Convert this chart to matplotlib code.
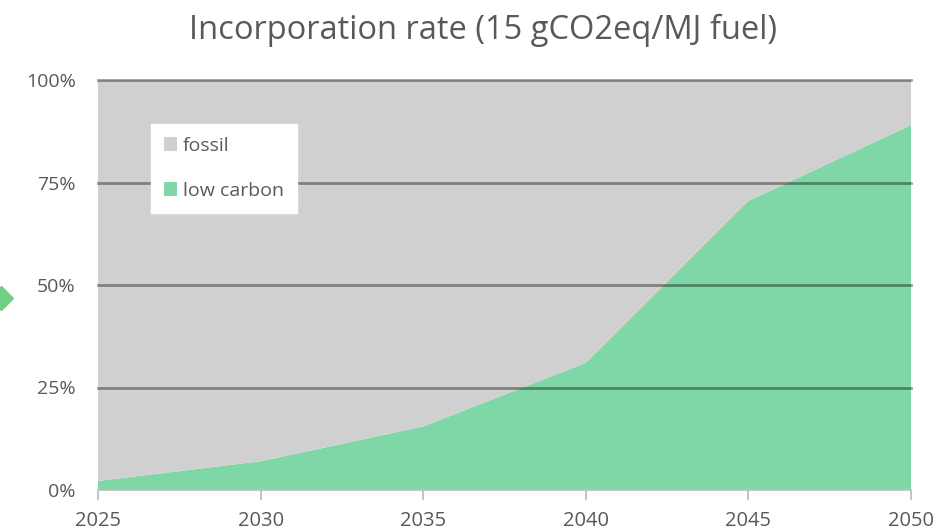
import matplotlib
matplotlib.use("Agg")
import matplotlib.pyplot as plt
import numpy as np
from matplotlib.patches import Patch
from matplotlib.lines import Line2D

years = [2025, 2030, 2035, 2040, 2045, 2050]
low_carbon = [2.2, 7.0, 15.5, 31.0, 70.5, 89.0]
fossil = [100 - v for v in low_carbon]
y_ticks = [0, 25, 50, 75, 100]
y_tick_labels = ["0%", "25%", "50%", "75%", "100%"]
title = "Incorporation rate (15 gCO2eq/MJ fuel)"
series_names = ["fossil", "low carbon"]

GRAY = "#d0d0d0"
GREEN = "#7fd6a6"
TXT = "#595959"
FONT = "Open Sans"

plt.rcParams["font.family"] = [FONT, "DejaVu Sans"]

fig = plt.figure(figsize=(9.4, 5.32), dpi=100)
ax = fig.add_axes([98/940, 1-490/532, (911-98)/940, (490-80)/532])

x = np.array(years, dtype=float)
yl = np.array(low_carbon, dtype=float)
yf = np.array(fossil, dtype=float)

ax.stackplot(x, yl, yf, colors=[GREEN, GRAY], linewidth=0, zorder=1)

ax.set_xlim(years[0], years[-1])
ax.set_ylim(0, 100)

for t in y_ticks[1:]:
    ax.axhline(t, color="black", alpha=0.38, linewidth=2.0, zorder=3, clip_on=False)

ax.set_yticks(y_ticks)
ax.set_yticklabels(y_tick_labels)
ax.set_xticks(years)
ax.set_xticklabels([str(y) for y in years])
ax.tick_params(axis="y", length=0, pad=16, labelsize=14, labelcolor=TXT)
ax.tick_params(axis="x", length=7, width=1.3, color="#bfbfbf", direction="out",
               pad=8, labelsize=14.5, labelcolor=TXT)
for s in ["left", "right", "top"]:
    ax.spines[s].set_visible(False)
ax.spines["bottom"].set_color("#bfbfbf")
ax.spines["bottom"].set_linewidth(1.3)
ax.spines["bottom"].set_zorder(4)

fig.text(0.5 * (186 + 780) / 940, 1 - 30/532, title, ha="center", va="center",
         fontsize=23.5, color=TXT)

handles = [Patch(facecolor=GRAY, edgecolor="none"), Patch(facecolor=GREEN, edgecolor="none")]
leg = ax.legend(handles, series_names, loc="upper left",
                bbox_to_anchor=((151-98)/813, (490-124)/410), borderaxespad=0,
                frameon=True, fancybox=False, framealpha=1, edgecolor="white",
                facecolor="white", fontsize=14, labelspacing=1.4,
                handlelength=0.7, handleheight=0.7, handletextpad=0.3,
                borderpad=0.65, labelcolor=TXT)
leg.set_zorder(5)

fig.add_artist(Line2D([1/940], [1-298/532], transform=fig.transFigure, marker="D",
                      markersize=12, color="#6fcf85", linestyle="none"))

fig.savefig("out.png", dpi=100, facecolor="white")
